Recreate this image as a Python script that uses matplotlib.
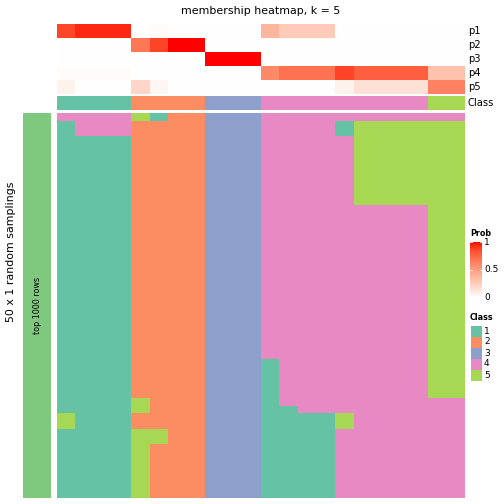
import numpy as np
import matplotlib
matplotlib.use("Agg")
import matplotlib.pyplot as plt
from matplotlib.colors import ListedColormap
import matplotlib.patches as patches

# membership probabilities, one list per class, one value per sampled column
p1 = [0.87, 0.95, 0.95, 0.95, 0, 0.02, 0, 0, 0, 0, 0, 0.38, 0.27, 0.27, 0.27, 0, 0, 0, 0, 0, 0, 0]
p2 = [0, 0, 0, 0, 0.68, 0.88, 1, 1, 0, 0, 0, 0, 0, 0, 0, 0, 0, 0, 0, 0, 0, 0]
p3 = [0, 0, 0, 0, 0, 0, 0, 0, 1, 1, 1, 0, 0, 0, 0, 0, 0, 0, 0, 0, 0, 0]
p4 = [0.02, 0.02, 0.02, 0.02, 0, 0, 0, 0, 0, 0, 0, 0.6, 0.7, 0.7, 0.7, 0.88, 0.78, 0.78, 0.78, 0.78, 0.32, 0.32]
p5 = [0.07, 0, 0, 0, 0.22, 0.05, 0, 0, 0, 0, 0, 0, 0, 0, 0, 0.07, 0.16, 0.16, 0.16, 0.16, 0.63, 0.63]
class_row = [1, 1, 1, 1, 2, 2, 2, 2, 3, 3, 3, 4, 4, 4, 4, 4, 4, 4, 4, 4, 5, 5]
prob_labels = ["p1", "p2", "p3", "p4", "p5"]

# class assignment in each of the 50 random samplings (rows) for each column
samplings = (
    ["4444512233344444444444"]
    + ["1444222233344441555555"] * 2
    + ["1111222233344444555555"] * 9
    + ["1111222233344444444455"] * 20
    + ["1111222233314444444455"] * 5
    + ["1111522233314444444444"]
    + ["1111522233311444444444"]
    + ["5111222233311115444444"] * 2
    + ["1111552233311114444444"] * 2
    + ["1111522233311114444444"] * 7
)

class_colors = ["#66C2A5", "#FC8D62", "#8DA0CB", "#E78AC3", "#A6D854"]
class_names = ["1", "2", "3", "4", "5"]


def lab_to_rgb(lab):
    L, a, b = lab[:, 0], lab[:, 1], lab[:, 2]
    fy = (L + 16) / 116
    fx = fy + a / 500
    fz = fy - b / 200

    def finv(t):
        return np.where(t ** 3 > 0.008856, t ** 3, (t - 16 / 116) / 7.787)

    X = 0.95047 * finv(fx)
    Y = finv(fy)
    Z = 1.08883 * finv(fz)
    rgb = np.stack([3.2406 * X - 1.5372 * Y - 0.4986 * Z,
                    -0.9689 * X + 1.8758 * Y + 0.0415 * Z,
                    0.0557 * X - 0.2040 * Y + 1.0570 * Z], axis=1)
    rgb = np.clip(rgb, 0, 1)
    rgb = np.where(rgb <= 0.0031308, 12.92 * rgb, 1.055 * rgb ** (1 / 2.4) - 0.055)
    return np.clip(rgb, 0, 1)


# white -> red ramp interpolated in LAB space
t = np.linspace(0, 1, 256)[:, None]
lab = (1 - t) * np.array([100.0, 0, 0]) + t * np.array([53.24, 80.09, 67.20])
prob_cmap = ListedColormap(lab_to_rgb(lab))
class_cmap = ListedColormap(class_colors)

W = H = 504
fig = plt.figure(figsize=(7, 7), dpi=72)


def px_axes(x, y, w, h):
    ax = fig.add_axes([x / W, 1 - (y + h) / H, w / W, h / H])
    ax.set_axis_off()
    return ax


x0, x1 = 57, 465

# probability rows
ax_p = px_axes(x0, 24, x1 - x0, 70)
probs = np.array([p1, p2, p3, p4, p5])
ax_p.imshow(probs, cmap=prob_cmap, vmin=0, vmax=1, aspect="auto", interpolation="nearest")
for i, lab_txt in enumerate(prob_labels):
    fig.text(468 / W, 1 - (31 + 14 * i) / H, lab_txt, fontsize=10, va="center", ha="left")

# class annotation row
ax_c = px_axes(x0, 96, x1 - x0, 14)
ax_c.imshow(np.array([class_row]), cmap=class_cmap, vmin=0.5, vmax=5.5, aspect="auto",
            interpolation="nearest")
fig.text(468 / W, 1 - 103 / H, "Class", fontsize=10, va="center", ha="left")

# main membership heatmap
mat = np.array([[int(ch) for ch in row] for row in samplings])
ax_m = px_axes(x0, 113, x1 - x0, 385)
ax_m.imshow(mat, cmap=class_cmap, vmin=0.5, vmax=5.5, aspect="auto", interpolation="nearest")

# left row-group bar
ax_l = px_axes(23, 113, 28, 385)
ax_l.add_patch(patches.Rectangle((0, 0), 1, 1, facecolor="#7FC97F", edgecolor="none"))
ax_l.set_xlim(0, 1)
ax_l.set_ylim(0, 1)
fig.text(37 / W, 1 - 305 / H, "top 1000 rows", fontsize=8, rotation=90, ha="center", va="center")
fig.text(11 / W, 0.5, "50 x 1 random samplings", fontsize=11, rotation=90, ha="center", va="center")

fig.text(261 / W, 1 - 11 / H, "membership heatmap, k = 5", fontsize=11, ha="center", va="center")

# legend: Prob colour bar
fig.text(470 / W, 1 - 233 / H, "Prob", fontsize=8, fontweight="bold", ha="left", va="center")
ax_cb = px_axes(470, 242, 12, 56)
ax_cb.imshow(np.linspace(1, 0, 100)[:, None], cmap=prob_cmap, vmin=0, vmax=1, aspect="auto",
             extent=(0, 1, 0, 1))
ax_cb.set_xlim(0, 1)
ax_cb.set_ylim(0, 1)
for v in [0, 0.5, 1]:
    ax_cb.plot([0, 0.2], [v, v], color="white", lw=0.8)
    ax_cb.plot([0.8, 1], [v, v], color="white", lw=0.8)
    fig.text(484 / W, 1 - (298 - 56 * v) / H, f"{v:g}", fontsize=9, ha="left", va="center")

# legend: Class swatches
fig.text(470 / W, 1 - 318 / H, "Class", fontsize=8, fontweight="bold", ha="left", va="center")
for i, (col, name) in enumerate(zip(class_colors, class_names)):
    ax_s = px_axes(471, 326 + 11 * i, 11, 10.5)
    ax_s.add_patch(patches.Rectangle((0, 0), 1, 1, facecolor=col, edgecolor="none"))
    ax_s.set_xlim(0, 1)
    ax_s.set_ylim(0, 1)
    fig.text(484 / W, 1 - (331 + 11 * i) / H, name, fontsize=9, ha="left", va="center")

fig.savefig("out.png", dpi=72)
